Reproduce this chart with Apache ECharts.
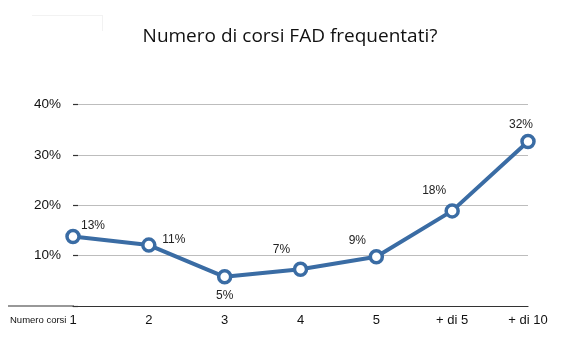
<!DOCTYPE html>
<html>
<head>
<meta charset="utf-8">
<script src="https://cdn.jsdelivr.net/npm/echarts@6/dist/echarts.min.js"></script>
<style>
html,body{margin:0;padding:0;background:#fff;}
#chart{width:580px;height:361px;}
</style>
</head>
<body>
<div id="chart"></div>
<script>
// ---- data ----
const titleText = 'Numero di corsi FAD frequentati?';
const categories = ['1', '2', '3', '4', '5', '+ di 5', '+ di 10'];
const values = [13.8, 12.1, 5.8, 7.3, 9.8, 18.9, 32.7];
const valueLabels = ['13%', '11%', '5%', '7%', '9%', '18%', '32%'];
const yTicks = [0, 10, 20, 30, 40];
const xAxisTitle = 'Numero corsi';

// ---- chart ----
const chart = echarts.init(document.getElementById('chart'), null, {renderer: 'canvas'});
const lineColor = '#3a6ca4';
const labelOffsets = [[20, -11], [25, -5], [0, 19], [-19, -20], [-19, -16], [-18, -20], [-7, -17]];

const seriesData = values.map((v, i) => ({
  value: v,
  label: { offset: labelOffsets[i], formatter: () => valueLabels[i] }
}));

chart.setOption({
  animation: false,
  backgroundColor: '#fff',
  title: {
    text: titleText,
    left: 'center',
    top: 22,
    textStyle: { fontFamily: 'Open Sans', fontSize: 19, fontWeight: 'normal', color: '#111' }
  },
  grid: { left: 73, right: 52, top: 104.7, bottom: 55 },
  xAxis: {
    type: 'category',
    data: categories,
    boundaryGap: false,
    axisLine: { show: true, lineStyle: { color: '#333', width: 1.2 } },
    axisTick: { show: false },
    splitLine: { show: false },
    axisLabel: { margin: 8, color: '#111', fontFamily: 'Liberation Sans', fontSize: 13 }
  },
  yAxis: {
    type: 'value',
    min: yTicks[0],
    max: yTicks[yTicks.length - 1],
    interval: yTicks[1] - yTicks[0],
    axisLine: { show: false },
    axisTick: { show: true, inside: true, length: 5, lineStyle: { color: '#333', width: 1.2 } },
    splitLine: { show: true, lineStyle: { color: '#bdbdbd', width: 1 } },
    axisLabel: {
      margin: 12,
      color: '#111',
      fontFamily: 'Liberation Sans',
      fontSize: 13.5,
      formatter: v => (v === 0 ? '' : v + '%')
    }
  },
  graphic: [
    { type: 'line', shape: { x1: 8, y1: 306, x2: 74, y2: 306 }, style: { stroke: '#333', lineWidth: 1.2 } },
    { type: 'text', left: 10, top: 315, style: { text: xAxisTitle, fontFamily: 'Liberation Sans', fontSize: 9.5, fill: '#111' } },
    { type: 'line', shape: { x1: 32, y1: 15.5, x2: 103, y2: 15.5 }, style: { stroke: '#f2f2f2', lineWidth: 1 } },
    { type: 'line', shape: { x1: 102.5, y1: 15, x2: 102.5, y2: 31 }, style: { stroke: '#f2f2f2', lineWidth: 1 } }
  ],
  series: [{
    type: 'line',
    data: seriesData,
    symbol: 'circle',
    symbolSize: 12,
    showAllSymbol: true,
    lineStyle: { color: lineColor, width: 4 },
    itemStyle: { color: '#fff', borderColor: lineColor, borderWidth: 3.5 },
    label: {
      show: true,
      position: 'inside',
      color: '#222',
      fontFamily: 'Liberation Sans',
      fontSize: 12
    },
    emphasis: { disabled: true },
    z: 3
  }]
});
</script>
</body>
</html>
